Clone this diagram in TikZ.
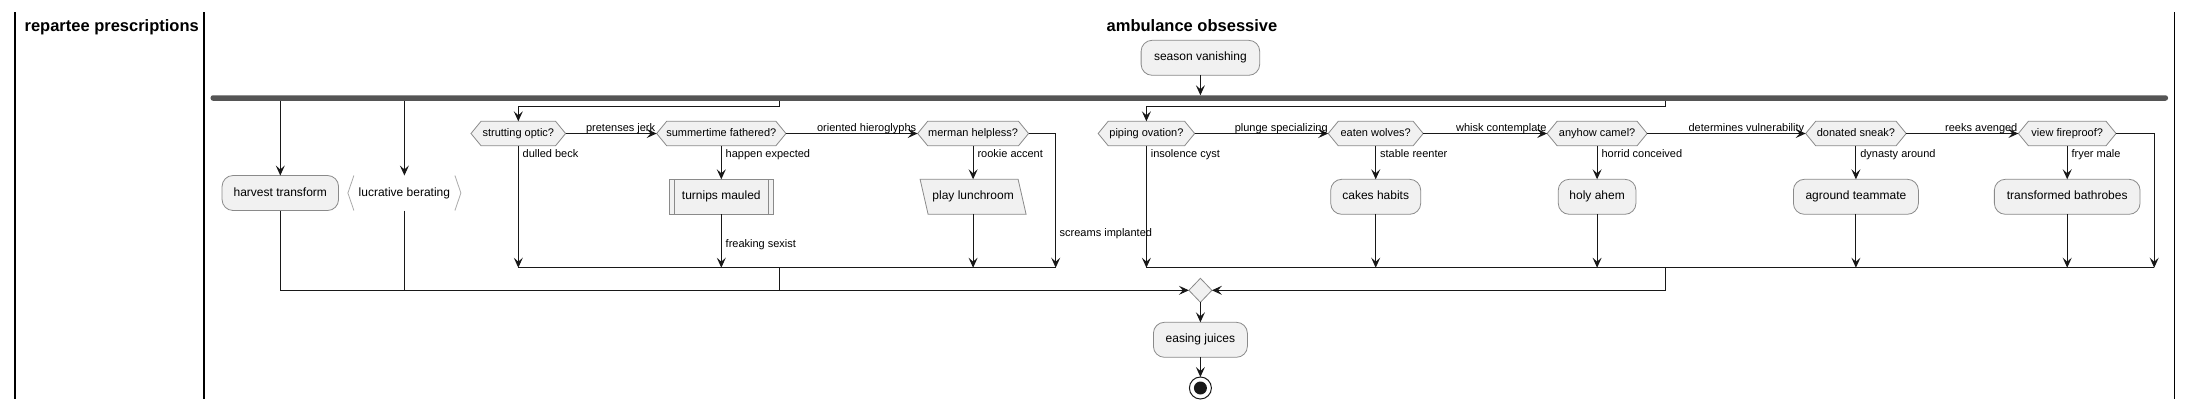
\documentclass[tikz,border=0pt]{standalone}
\usepackage{fontspec}
\setmainfont{Liberation Sans}
\usetikzlibrary{arrows.meta,shapes.geometric,calc}
\definecolor{bgc}{HTML}{F1F1F1}
\definecolor{bdc}{HTML}{8A8A8A}
\definecolor{lnc}{HTML}{181818}
\definecolor{barc}{HTML}{555555}
\definecolor{brc}{HTML}{AAAAAA}
\pgfdeclarelayer{background}
\pgfsetlayers{background,main}
\newcommand\hexbg[1]{\path[draw=bdc,fill=bgc,line width=0.8pt] (#1.west) -- ([xshift=10pt]#1.north west) -- ([xshift=-10pt]#1.north east) -- (#1.east) -- ([xshift=-10pt]#1.south east) -- ([xshift=10pt]#1.south west) -- cycle;}
\begin{document}
\begin{tikzpicture}[x=1pt,y=-1pt,
  every node/.style={inner sep=0pt, outer sep=0pt},
  actfont/.style={font=\fontsize{12}{14}\selectfont, text height=8.6pt, text depth=2.5pt},
  act/.style={actfont, draw=bdc, fill=bgc, line width=0.8pt, rounded corners=11pt, minimum height=35pt},
  hexn/.style={font=\fontsize{11}{13}\selectfont, text height=8pt, text depth=2.3pt, minimum height=24.4pt},
  lab/.style={font=\fontsize{11}{13}\selectfont, inner sep=0pt},
  title/.style={font=\fontsize{16.5}{20}\selectfont\bfseries},
  forkbar/.style={fill=barc, minimum height=5.5pt, rounded corners=2.5pt},
  flow/.style={draw=lnc, line width=1pt, -{Stealth[length=10pt,width=9pt,inset=4pt]}},
  plain/.style={draw=lnc, line width=1pt},
  lane/.style={draw=black, line width=1.5pt}
]
\useasboundingbox (0,0) rectangle (2192,410);

% lanes
\draw[lane] (15,12.3) -- (15,399);
\draw[lane] (204,12.3) -- (204,399);
\draw[lane] (2174.6,12.3) -- (2174.6,399);
\node[title, anchor=base] (t1) at (111.7,31) {repartee prescriptions};
\node[title, anchor=base] (t2) at (1192,31) {ambulance obsessive};

% top
\node[act, minimum width=118.6pt] (sv) at (1200.4,57.8) {season vanishing};
\node[forkbar, minimum width=1957.5pt] (fork) at (1189.25,98) {};

% lane-side branches
\node[act, minimum width=116.5pt] (ht) at (280.3,193) {harvest transform};
\node[actfont, minimum width=113pt, minimum height=35pt] (lb) at (404.4,193) {lucrative berating};
\draw[brc, line width=0.8pt] ([xshift=6pt]lb.north west) -- (lb.west) -- ([xshift=6pt]lb.south west);
\draw[brc, line width=0.8pt] ([xshift=-6pt]lb.north east) -- (lb.east) -- ([xshift=-6pt]lb.south east);

% group 1
\node[hexn, minimum width=94.6pt] (strut) at (518.3,133.5) {strutting optic?};
\node[hexn, minimum width=129.3pt] (summ) at (721.3,133.5) {summertime fathered?};
\node[hexn, minimum width=110.9pt] (merm) at (973.1,133.5) {merman helpless?};
\node[actfont, draw=bdc, fill=bgc, line width=0.8pt, minimum width=103.4pt, minimum height=35pt] (tm) at (721.3,196.8) {turnips mauled};
\draw[bdc, line width=0.8pt] ([xshift=5pt]tm.north west) -- ([xshift=5pt]tm.south west);
\draw[bdc, line width=0.8pt] ([xshift=-5pt]tm.north east) -- ([xshift=-5pt]tm.south east);
\node[actfont, minimum width=98pt, minimum height=35pt] (pl) at (973.1,196.8) {play lunchroom};

% group 2
\node[hexn, minimum width=96.5pt] (pip) at (1146.4,133.5) {piping ovation?};
\node[hexn, minimum width=95pt] (eat) at (1375.7,133.5) {eaten wolves?};
\node[hexn, minimum width=100pt] (any) at (1597.1,133.5) {anyhow camel?};
\node[hexn, minimum width=100.5pt] (don) at (1855.9,133.5) {donated sneak?};
\node[hexn, minimum width=97.7pt] (vie) at (2067.2,133.5) {view fireproof?};
\node[act, minimum width=90pt] (ch) at (1375.7,196.8) {cakes habits};
\node[act, minimum width=77.7pt] (ha) at (1597.1,196.8) {holy ahem};
\node[act, minimum width=125pt] (at) at (1855.9,196.8) {aground teammate};
\node[act, minimum width=145.7pt] (tb) at (2067.2,196.8) {transformed bathrobes};

% merge and end
\node[diamond, draw=bdc, fill=bgc, line width=0.8pt, minimum width=23pt, minimum height=24pt] (merge) at (1200.4,290.3) {};
\node[act, minimum width=94pt] (ej) at (1200.4,339.8) {easing juices};
\node[circle, draw=lnc, fill=white, line width=1pt, minimum size=22pt] (end) at (1200.4,388) {};
\node[circle, fill=lnc, minimum size=13pt] (endin) at (end.center) {};

\begin{pgfonlayer}{background}
\hexbg{strut}\hexbg{summ}\hexbg{merm}
\hexbg{pip}\hexbg{eat}\hexbg{any}\hexbg{don}\hexbg{vie}
\path[draw=bdc, fill=bgc, line width=0.8pt] ([xshift=-4pt]pl.north west) -- ([xshift=-4pt]pl.north east) -- ([xshift=4pt]pl.south east) -- ([xshift=4pt]pl.south west) -- cycle;
\end{pgfonlayer}

% coordinates
\coordinate (g1t) at (779.5,106.3);
\coordinate (g2t) at (1665.3,106.3);
\coordinate (g1r) at (1055.7,267.7);
\coordinate (g2r) at (2154.2,267.7);

% connectors top
\draw[flow] (sv.south) -- (sv.south |- fork.north);
\draw[flow] (fork.south -| ht.north) -- (ht.north);
\draw[flow] (fork.south -| lb.north) -- (lb.north);
\draw[flow] (fork.south -| g1t) -- (g1t) -| (strut.north);
\draw[flow] (fork.south -| g2t) -- (g2t) -| (pip.north);

% group 1 connectors
\draw[flow] (strut.east) -- (summ.west);
\draw[flow] (summ.east) -- (merm.west);
\draw[flow] (merm.east) -| (g1r);
\draw[flow] (strut.south) -- (strut.south |- g1r);
\draw[flow] (summ.south) -- (tm.north);
\draw[flow] (tm.south) -- (tm.south |- g1r);
\draw[flow] (merm.south) -- (pl.north);
\draw[flow] (pl.south) -- (pl.south |- g1r);
\draw[plain] (strut.south |- g1r) -- (g1r);
\draw[plain] (g1t |- g1r) -- (g1t |- merge.west);

% group 2 connectors
\draw[flow] (pip.east) -- (eat.west);
\draw[flow] (eat.east) -- (any.west);
\draw[flow] (any.east) -- (don.west);
\draw[flow] (don.east) -- (vie.west);
\draw[flow] (vie.east) -| (g2r);
\draw[flow] (pip.south) -- (pip.south |- g2r);
\draw[flow] (eat.south) -- (ch.north);
\draw[flow] (ch.south) -- (ch.south |- g2r);
\draw[flow] (any.south) -- (ha.north);
\draw[flow] (ha.south) -- (ha.south |- g2r);
\draw[flow] (don.south) -- (at.north);
\draw[flow] (at.south) -- (at.south |- g2r);
\draw[flow] (vie.south) -- (tb.north);
\draw[flow] (tb.south) -- (tb.south |- g2r);
\draw[plain] (pip.south |- g2r) -- (g2r);

% merge connectors
\draw[plain] (ht.south) -- (ht.south |- merge.west);
\draw[plain] (lb.south) -- (lb.south |- merge.west);
\draw[flow] (ht.south |- merge.west) -- (merge.west);
\draw[flow] (g2t |- g2r) -- (g2t |- merge.east) -- (merge.east);
\draw[flow] (merge.south) -- (ej.north);
\draw[flow] (ej.south) -- (end.north);

% labels on horizontal arrows
\node[lab, anchor=base east] (e1) at ($(summ.west)+(-1.5,-2.5)$) {pretenses jerk};
\node[lab, anchor=base east] (e2) at ($(merm.west)+(-1.5,-2.5)$) {oriented hieroglyphs};
\node[lab, anchor=base east] (e3) at ($(eat.west)+(-0.5,-2.5)$) {plunge specializing};
\node[lab, anchor=base east] (e4) at ($(any.west)+(-0.5,-2.5)$) {whisk contemplate};
\node[lab, anchor=base east] (e5) at ($(don.west)+(-1.5,-2.5)$) {determines vulnerability};
\node[lab, anchor=base east] (e6) at ($(vie.west)+(-1,-2.5)$) {reeks avenged};

% labels on vertical arrows
\node[lab, anchor=base west] (d1) at ($(strut.south)+(4.4,11.8)$) {dulled beck};
\node[lab, anchor=base west] (d2) at ($(summ.south)+(4.4,11.8)$) {happen expected};
\node[lab, anchor=base west] (d3) at ($(merm.south)+(4.4,11.8)$) {rookie accent};
\node[lab, anchor=base west] (d4) at ($(tm.south)+(4.4,33.2)$) {freaking sexist};
\node[lab, anchor=base west] (d5) at ($(g1r)+(4,-31.7)$) {screams implanted};
\node[lab, anchor=base west] (d6) at ($(pip.south)+(4.4,11.8)$) {insolence cyst};
\node[lab, anchor=base west] (d7) at ($(eat.south)+(4.4,11.8)$) {stable reenter};
\node[lab, anchor=base west] (d8) at ($(any.south)+(4.4,11.8)$) {horrid conceived};
\node[lab, anchor=base west] (d9) at ($(don.south)+(4.4,11.8)$) {dynasty around};
\node[lab, anchor=base west] (d10) at ($(vie.south)+(4.4,11.8)$) {fryer male};
\end{tikzpicture}
\end{document}
